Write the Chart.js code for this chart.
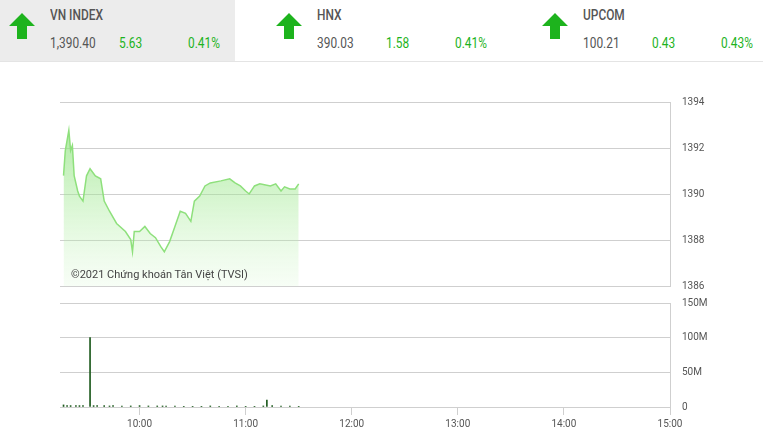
<!DOCTYPE html>
<html><head><meta charset="utf-8">
<script src="https://cdn.jsdelivr.net/npm/chart.js@4"></script>
<style>
body{margin:0;width:763px;height:441px;background:#fff;font-family:Roboto,sans-serif;overflow:hidden;position:relative}
.hd{position:absolute;top:0;height:61px;width:255px}
.hd .ar{position:absolute;left:8px;top:12px}
.hd .nm{position:absolute;left:50px;top:7px;font-size:14px;color:#555;font-weight:500;transform:scaleX(.85);transform-origin:left}
.hd .vl{position:absolute;top:35px;font-size:14px;transform:scaleX(.85);transform-origin:left}
#wm{position:absolute;left:71px;top:268px;font-size:11px;color:#444}
canvas{position:absolute;left:0}
</style></head><body>
<div class="hd" style="left:0;width:235px;background:#ececec"></div>
<div class="hd" style="left:0" id="h0"></div>
<div class="hd" style="left:267px" id="h1"></div>
<div class="hd" style="left:533px" id="h2"></div>
<div style="position:absolute;left:0;top:61px;width:763px;border-top:1px solid #e4e4e4"></div>
<canvas id="vol" style="top:285px" width="763" height="156"></canvas>
<canvas id="price" style="top:62px" width="763" height="242"></canvas>
<div id="wm">©2021 Chứng khoán Tân Việt (TVSI)</div>
<script>
var indexNames = ["VN INDEX", "HNX", "UPCOM"];
var indexValues = ["1,390.40", "390.03", "100.21"];
var indexChanges = ["5.63", "1.58", "0.43"];
var indexPercents = ["0.41%", "0.41%", "0.43%"];

var priceTimes = ["9:17","9:18","9:20","9:21","9:22","9:23","9:25","9:26","9:28","9:30","9:32","9:35","9:38","9:40","9:43","9:47","9:52","9:55","9:56","9:57","10:00","10:03","10:06","10:09","10:12","10:14","10:17","10:20","10:23","10:26","10:29","10:31","10:34","10:37","10:40","10:46","10:51","10:54","10:57","11:00","11:02","11:05","11:08","11:14","11:17","11:20","11:22","11:25","11:28","11:30"];
var priceValues = [1390.80,1391.89,1392.77,1391.89,1392.11,1390.80,1390.13,1389.91,1389.69,1390.79,1391.10,1390.79,1390.66,1389.69,1389.25,1388.72,1388.37,1388.02,1387.49,1388.37,1388.37,1388.59,1388.28,1388.10,1387.71,1387.49,1387.93,1388.59,1389.25,1389.16,1388.81,1389.69,1389.91,1390.35,1390.48,1390.57,1390.66,1390.48,1390.35,1390.13,1390.00,1390.35,1390.44,1390.35,1390.44,1390.13,1390.31,1390.22,1390.22,1390.44];
var volTimes = ["9:17","9:19","9:21","9:24","9:26","9:28","9:32","9:34","9:36","9:40","9:43","9:45","9:50","9:55","10:00","10:05","10:10","10:13","10:15","10:20","10:25","10:30","10:35","10:40","10:45","10:50","10:55","11:00","11:05","11:10","11:12","11:15","11:20","11:25","11:30"];
var volValues = [3,2,2,2,2,2,100,2,2,2,1.5,2,1.5,1.5,2,1.5,1.5,1.5,1.5,1.5,1,1,1,1.5,1,1,1.5,1,1,1.5,10,2,1.5,1.5,1];
var xTicks = ["10:00","11:00","12:00","13:00","14:00","15:00"];

function mins(t){var p=t.split(':');return (+p[0]-9)*60+(+p[1]);}
function lbl(m){return (9+Math.floor(m/60))+':'+('0'+(m%60)).slice(-2);}

var arrow='<svg class="ar" width="28" height="28" viewBox="0 0 28 28"><path d="M14 1 L27 14 L19 14 L19 27 L9 27 L9 14 L1 14 Z" fill="#1db31d"/></svg>';
indexNames.forEach(function(n,i){
  document.getElementById('h'+i).innerHTML=arrow+'<div class="nm">'+n+'</div>'+
   '<div class="vl" style="left:50px;color:#555">'+indexValues[i]+'</div>'+
   '<div class="vl" style="left:119px;color:#1db31d">'+indexChanges[i]+'</div>'+
   '<div class="vl" style="left:188px;color:#1db31d">'+indexPercents[i]+'</div>';
});

var xBase={type:'linear',min:15,max:360,offset:false,grid:{display:false,offset:false},border:{display:false}};
var tickFont={family:'Roboto',size:10};

new Chart(document.getElementById('price'),{
  type:'line',
  data:{datasets:[{
    data:priceTimes.map(function(t,i){return {x:mins(t),y:priceValues[i]};}),
    borderColor:'#8ee07c',borderWidth:1.5,pointRadius:0,tension:0,fill:'start',
    backgroundColor:function(c){var a=c.chart.chartArea;if(!a)return 'rgba(140,224,120,.5)';
      var g=c.chart.ctx.createLinearGradient(0,a.top,0,a.bottom);
      g.addColorStop(0,'rgba(120,220,100,0.75)');g.addColorStop(1,'rgba(200,245,190,0.15)');return g;}
  }]},
  options:{responsive:false,animation:false,
    layout:{padding:{left:60,top:40,bottom:6}},
    plugins:{legend:{display:false},tooltip:{enabled:false}},
    scales:{
      x:Object.assign({},xBase,{display:false}),
      y:{position:'right',min:1386,max:1394,afterFit:function(s){s.width=93;},
        ticks:{stepSize:2,font:tickFont,color:'#555',padding:12,callback:function(v){return String(v);}},
        grid:{color:'#cfcfcf',drawTicks:false},border:{display:true,color:'#cfcfcf'}}
    }}
});

new Chart(document.getElementById('vol'),{
  type:'bar',
  data:{datasets:[{
    data:volTimes.map(function(t,i){return {x:mins(t),y:volValues[i]};}),
    backgroundColor:'#1d5a1d',barThickness:1
  }]},
  options:{responsive:false,animation:false,
    layout:{padding:{left:60,top:5}},
    plugins:{legend:{display:false},tooltip:{enabled:false}},
    scales:{
      x:Object.assign({},xBase,{
        afterBuildTicks:function(s){s.ticks=xTicks.map(function(t){return {value:mins(t)};});},
        afterFit:function(s){s.height=34;},
        ticks:{font:tickFont,color:'#555',callback:function(v){return lbl(v);},padding:3},
        grid:{display:true,drawOnChartArea:false,tickLength:8,color:'#cfcfcf',offset:false}}),
      y:{position:'right',min:0,max:150,afterFit:function(s){s.width=93;},
        ticks:{stepSize:50,font:tickFont,color:'#555',padding:12,callback:function(v){return v?v+'M':'0';}},
        grid:{color:'#cfcfcf',drawTicks:false},border:{display:true,color:'#cfcfcf'}}
    }}
});
</script>
</body></html>
